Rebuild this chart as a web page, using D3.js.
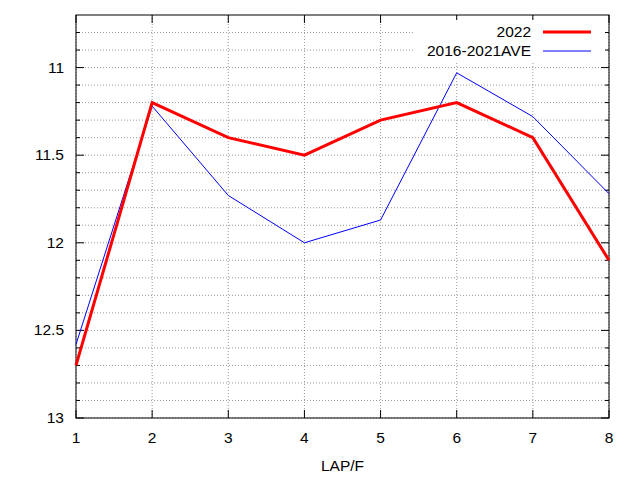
<!DOCTYPE html><html><head><script src="https://cdn.jsdelivr.net/npm/d3@7"></script>
<style>body{margin:0;background:#fff}text{font-family:"Liberation Sans",Arial,sans-serif;font-size:15.5px}</style></head><body><svg id="c" width="640" height="480"></svg><script>
const laps=[1,2,3,4,5,6,7,8];
const s2022=[12.7,11.2,11.4,11.5,11.3,11.2,11.4,12.1];
const sAve=[12.58,11.22,11.73,12.0,11.87,11.03,11.28,11.72];
const yTicks=[11,11.5,12,12.5,13];
const svg=d3.select("#c");
const L=76,R=609,T=15,B=418;
const x=d3.scaleLinear().domain([1,8]).range([L,R]);
const y=d3.scaleLinear().domain([10.7,13]).range([T,B]);
const g=svg.append("g");
const minor=d3.range(10.8,13.0001,0.1).map(v=>+v.toFixed(1));
minor.forEach(v=>g.append("line").attr("x1",L).attr("x2",R).attr("y1",y(v)).attr("y2",y(v)).attr("stroke","#808080").attr("stroke-width",0.8).attr("stroke-dasharray","1,2"));
laps.forEach(v=>g.append("line").attr("x1",x(v)).attr("x2",x(v)).attr("y1",T).attr("y2",B).attr("stroke","#808080").attr("stroke-width",0.8).attr("stroke-dasharray","1,2"));
minor.forEach(v=>{const len=yTicks.includes(v)?8:4;g.append("line").attr("x1",L).attr("x2",L+len).attr("y1",y(v)).attr("y2",y(v)).attr("stroke","#000");g.append("line").attr("x1",R).attr("x2",R-len).attr("y1",y(v)).attr("y2",y(v)).attr("stroke","#000");});
laps.forEach(v=>{g.append("line").attr("x1",x(v)).attr("x2",x(v)).attr("y1",B).attr("y2",B-8).attr("stroke","#000");g.append("line").attr("x1",x(v)).attr("x2",x(v)).attr("y1",T).attr("y2",T+8).attr("stroke","#000");
 g.append("text").attr("x",x(v)).attr("y",B+25).attr("text-anchor","middle").text(v);});
yTicks.forEach(v=>g.append("text").attr("x",L-12).attr("y",y(v)+5).attr("text-anchor","end").text(v));
g.append("rect").attr("x",L).attr("y",T).attr("width",R-L).attr("height",B-T).attr("fill","none").attr("stroke","#000");
g.append("text").attr("x",(L+R)/2).attr("y",471).attr("text-anchor","middle").text("LAP/F");
g.append("rect").attr("x",415).attr("y",20).attr("width",190).attr("height",42).attr("fill","#fff");
const line=d3.line().x((d,i)=>x(laps[i])).y(d=>y(d));
g.append("path").attr("d",line(sAve)).attr("fill","none").attr("stroke","#0000ff").attr("stroke-width",1);
g.append("path").attr("d",line(s2022)).attr("fill","none").attr("stroke","#ff0000").attr("stroke-width",3);
g.append("text").attr("x",531).attr("y",37).attr("text-anchor","end").text("2022");
g.append("line").attr("x1",543).attr("x2",591).attr("y1",32).attr("y2",32).attr("stroke","#ff0000").attr("stroke-width",3);
g.append("text").attr("x",531).attr("y",56).attr("text-anchor","end").text("2016-2021AVE");
g.append("line").attr("x1",543).attr("x2",591).attr("y1",51).attr("y2",51).attr("stroke","#0000ff").attr("stroke-width",1);
</script></body></html>
